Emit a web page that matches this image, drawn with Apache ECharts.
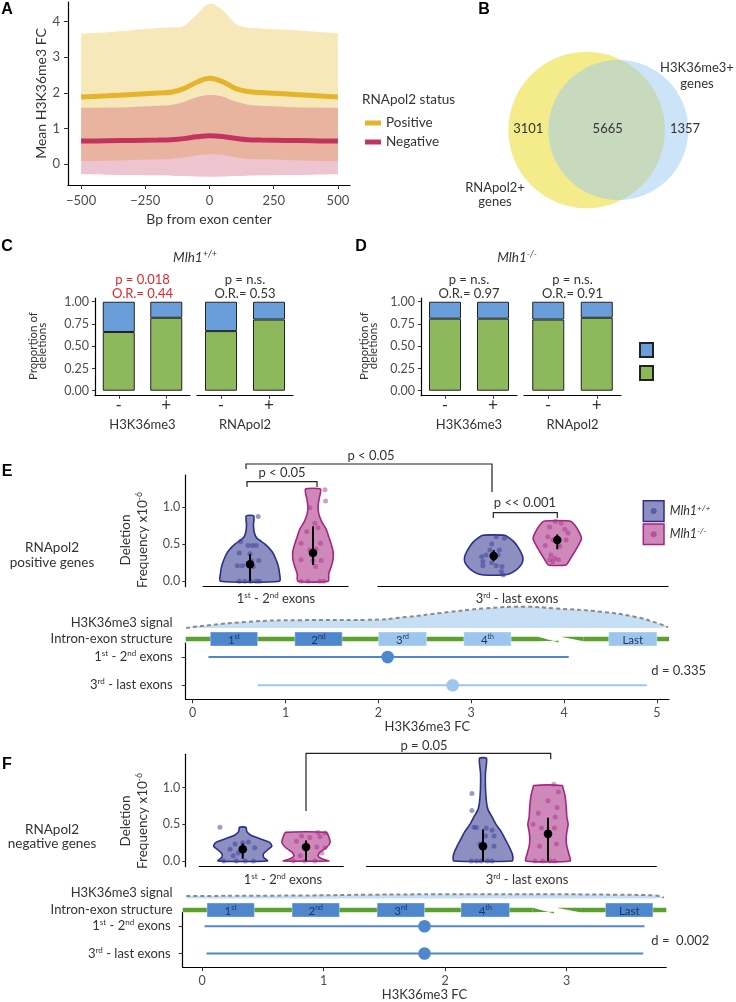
<!DOCTYPE html>
<html><head><meta charset="utf-8">
<script src="https://cdn.jsdelivr.net/npm/echarts@6/dist/echarts.min.js"></script>
<style>html,body{margin:0;padding:0;background:#fff}#c{width:736px;height:1002px}</style>
</head><body><div id="c"></div>
<script>
const FONT = 'Lato, "Noto Sans", "DejaVu Sans", sans-serif';
const TXT = '#333333';
const AXC = '#4d4d4d';

// ===== Panel A data =====
const aBp      = [-500,-400,-300,-200,-150,-100,-50,0,50,100,150,200,300,400,500];
const aPosMean = [1.89,1.92,1.96,2.00,2.02,2.12,2.30,2.41,2.32,2.13,2.04,2.01,1.97,1.93,1.89];
const aPosHigh = [3.66,3.70,3.76,3.82,3.84,3.88,4.20,4.50,4.33,3.95,3.83,3.81,3.77,3.72,3.67];
const aPosLow  = [0.09,0.10,0.12,0.14,0.15,0.19,0.25,0.28,0.26,0.20,0.15,0.14,0.12,0.10,0.09];
const aNegMean = [0.65,0.66,0.67,0.68,0.69,0.72,0.77,0.80,0.78,0.73,0.69,0.68,0.67,0.66,0.65];
const aNegHigh = [1.58,1.59,1.61,1.64,1.66,1.75,1.88,1.94,1.90,1.76,1.67,1.64,1.61,1.59,1.58];
const aNegLow  = [-0.28,-0.29,-0.30,-0.31,-0.32,-0.33,-0.34,-0.35,-0.34,-0.33,-0.32,-0.31,-0.30,-0.29,-0.28];
const aXTicks  = [-500,-250,0,250,500];
const aYTicks  = [0,1,2,3,4];
const aStatus  = ['Positive','Negative'];

// ===== Panel B data =====
const vennSets   = ['RNApol2+\ngenes','H3K36me3+\ngenes'];
const vennCounts = [3101, 5665, 1357];   // RNApol2 only, both, H3K36me3 only

// ===== Panels C / D data =====
const cdMarks   = ['-','+'];
const cdFacets  = ['H3K36me3','RNApol2'];
const cGreen    = [[0.66,0.82],[0.67,0.80]];
const dGreen    = [[0.81,0.81],[0.80,0.82]];
const cPvals    = ['p = 0.018','p = n.s.'];
const cOddsR    = ['O.R.= 0.44','O.R.= 0.53'];
const dPvals    = ['p = n.s.','p = n.s.'];
const dOddsR    = ['O.R.= 0.97','O.R.= 0.91'];
const propTicks = [0,0.25,0.5,0.75,1];
const cdClasses = ['Class 1','Class 2'];

// ===== Panels E / F data =====
const genotypes  = ['Mlh1+/+','Mlh1-/-'];
const exonGroups = ['1st - 2nd exons','3rd - last exons'];
const freqTicks  = [0,0.5,1.0];
// violin outlines: [deletion frequency, half width]
const eEarlyWT = [[0,0.47],[0.1,0.47],[0.2,0.45],[0.3,0.41],[0.4,0.35],[0.5,0.24],[0.58,0.11],[0.65,0.07],[0.75,0.055],[0.88,0.06]];
const eEarlyKO = [[0,0.24],[0.1,0.25],[0.2,0.29],[0.3,0.32],[0.4,0.32],[0.5,0.29],[0.6,0.25],[0.7,0.21],[0.8,0.14],[0.9,0.095],[1.0,0.08],[1.1,0.095],[1.24,0.12]];
const eLateWT  = [[0.085,0.16],[0.1,0.25],[0.15,0.35],[0.2,0.41],[0.25,0.45],[0.3,0.46],[0.35,0.45],[0.45,0.39],[0.52,0.33],[0.58,0.25],[0.62,0.17]];
const eLateKO  = [[0.22,0.14],[0.28,0.19],[0.35,0.24],[0.45,0.31],[0.57,0.38],[0.65,0.35],[0.75,0.28],[0.81,0.2]];
const fEarlyWT = [[0,0.39],[0.05,0.33],[0.1,0.33],[0.15,0.39],[0.2,0.46],[0.25,0.43],[0.3,0.28],[0.35,0.13],[0.4,0.065],[0.46,0.05]];
const fEarlyKO = [[0,0.36],[0.03,0.25],[0.07,0.19],[0.12,0.22],[0.18,0.32],[0.25,0.38],[0.33,0.36],[0.39,0.32]];
const fLateWT  = [[0,0.45],[0.05,0.46],[0.1,0.45],[0.2,0.40],[0.3,0.34],[0.4,0.28],[0.5,0.2],[0.6,0.14],[0.7,0.077],[0.8,0.054],[1.0,0.038],[1.2,0.038],[1.4,0.054]];
const fLateKO  = [[0,0.34],[0.1,0.32],[0.2,0.29],[0.3,0.28],[0.4,0.29],[0.5,0.31],[0.6,0.29],[0.75,0.28],[0.9,0.26],[1.0,0.23],[1.03,0.22]];
// individual samples: [jitter, deletion frequency]
const eEarlyWTPts = [[0.13,0.87],[-0.15,0.535],[-0.03,0.48],[0.04,0.48],[0.1,0.48],[-0.17,0.38],[0,0.37],[0.14,0.28],[0.02,0.28],[-0.2,0.21],[-0.12,0.21],[0.05,0.2],[-0.17,0],[-0.08,0],[0.01,0],[0.1,0],[0.15,0]];
const eEarlyKOPts = [[0.19,1.23],[0.2,1.08],[-0.05,0.99],[0.03,0.78],[0.08,0.72],[-0.1,0.67],[-0.19,0.51],[0.12,0.51],[-0.05,0.42],[0.05,0.43],[0.13,0.28],[-0.19,0.29],[0,0.28],[0.04,0.2],[-0.19,0],[-0.08,0],[0.11,0],[0.17,0]];
const eLateWTPts  = [[0.04,0.6],[0.17,0.58],[-0.03,0.5],[0.09,0.42],[-0.06,0.42],[-0.12,0.355],[0.07,0.355],[-0.19,0.33],[-0.17,0.265],[-0.03,0.25],[-0.17,0.21],[0.04,0.21],[0.13,0.2],[0.12,0.13],[0.15,0.085]];
const eLateKOPts  = [[-0.03,0.805],[0.06,0.78],[-0.12,0.73],[0.12,0.7],[0.17,0.65],[-0.15,0.6],[-0.07,0.555],[0.14,0.555],[-0.19,0.48],[0.04,0.47],[-0.1,0.355],[-0.04,0.31],[-0.12,0.29],[0.02,0.29],[-0.07,0.265]];
const fEarlyWTPts = [[-0.36,0.46],[-0.12,0.23],[0,0.25],[0.09,0.26],[0.19,0.18],[-0.2,0.16],[-0.07,0.11],[-0.15,0.07],[-0.3,0],[0.04,0],[0.17,0],[-0.1,0]];
const fEarlyKOPts = [[0.19,0.39],[0.3,0.38],[0.06,0.32],[-0.07,0.34],[0.22,0.33],[-0.15,0.27],[0.17,0.19],[0.3,0.18],[0.25,0.11],[-0.09,0.07],[-0.2,0],[-0.02,0],[0.14,0]];
const fLateWTPts  = [[-0.17,0.92],[-0.17,0.69],[-0.14,0.46],[-0.1,0.455],[0.05,0.45],[0.14,0.42],[0.17,0.34],[0.04,0.34],[-0.05,0.23],[0.17,0.2],[-0.18,0],[-0.1,0],[-0.03,0],[0.07,0],[0.14,0]];
const fLateKOPts  = [[0.09,1.045],[0.16,0.94],[0,0.82],[0.14,0.73],[-0.15,0.65],[0.11,0.6],[-0.23,0.5],[-0.1,0.45],[0.1,0.45],[0.13,0.23],[-0.13,0.2],[-0.2,0],[-0.08,0],[0.03,0],[0.1,0]];
// [mean, low, high]
const eEarlyWTStat = [0.23,0,0.365],  eEarlyKOStat = [0.38,0.22,0.74];
const eLateWTStat  = [0.34,0.27,0.42], eLateKOStat  = [0.555,0.43,0.63];
const fEarlyWTStat = [0.16,0.03,0.24], fEarlyKOStat = [0.19,0,0.28];
const fLateWTStat  = [0.2,0,0.43],     fLateKOStat  = [0.37,0,0.59];
const eTests = ['p < 0.05','p < 0.05','p << 0.001'];
const fTests = ['p = 0.05'];
// H3K36me3 signal schematic
const eSignalFC = [-0.07,0.58,1.16,1.88,2.32,2.68,3.15,3.58,3.90,4.40,4.76,5.01,5.12];
const eSignal   = [0.00,0.22,0.28,0.29,0.40,0.54,0.70,0.76,0.70,0.58,0.40,0.17,0.03];
const fSignalFC = [-0.13,0.8,1.36,2.03,2.86,3.43,3.72,3.80];
const fSignal   = [0.17,0.2,0.25,0.28,0.28,0.25,0.21,0.05];
// exon structure
const exonNames  = ['1st','2nd','3rd','4th','Last'];
const eExonStart = [0.19,1.10,2.00,2.92,4.48];
const eExonEnd   = [0.70,1.61,2.52,3.43,5.00];
const fExonStart = [0.04,0.74,1.44,2.13,3.32];
const fExonEnd   = [0.43,1.13,1.83,2.53,3.71];
const eIntronBreak = [3.72,4.21];
const fIntronBreak = [2.72,3.11];
// H3K36me3 FC ranges per exon group
const eRangeLow = [0.17,0.70], eRangeHigh = [4.05,4.89], eRangeMid = [2.10,2.80];
const fRangeLow = [0.02,0.036], fRangeHigh = [3.64,3.63], fRangeMid = [1.83,1.83];
const eEffect = 'd = 0.335', fEffect = 'd =  0.002';
const eFCTicks = [0,1,2,3,4,5], fFCTicks = [0,1,2,3];

// ===== helpers =====
const sup = s => s.replace(/(\d)(st|nd|rd|th)\b/g, '$1{s|$2}');
const supG = s => s.replace(/^(Mlh1)(.+)$/, '$1{s|$2}');
const richLbl = {s:{fontSize:8, lineHeight:8, verticalAlign:'top', fontFamily:FONT, color:TXT}};
function gText(x, y, text, st = {}, el = {}) {
  const style = Object.assign({text, fill:TXT, fontFamily:FONT, fontSize:13, align:'center', verticalAlign:'middle'}, st);
  style.textAlign = style.align; style.textVerticalAlign = style.verticalAlign;
  return Object.assign({type:'text', x, y, silent:true, z:100, style}, el);
}
const richG = (fs = 8, extra = {}) => ({s:Object.assign({fontSize:fs, lineHeight:fs, verticalAlign:'top', fontFamily:FONT, fill:TXT}, extra)});
// Catmull-Rom -> cubic bezier path through pixel points
function splinePath(pts) {
  let d = '';
  for (let i = 0; i < pts.length - 1; i++) {
    const p0 = pts[Math.max(i - 1, 0)], p1 = pts[i], p2 = pts[i + 1], p3 = pts[Math.min(i + 2, pts.length - 1)];
    const c1 = [p1[0] + (p2[0] - p0[0]) / 6, p1[1] + (p2[1] - p0[1]) / 6];
    const c2 = [p2[0] - (p3[0] - p1[0]) / 6, p2[1] - (p3[1] - p1[1]) / 6];
    d += ' C' + c1[0] + ',' + c1[1] + ' ' + c2[0] + ',' + c2[1] + ' ' + p2[0] + ',' + p2[1];
  }
  return d;
}

const grid = [], xAxis = [], yAxis = [], series = [], graphic = [];
function addCoord(g, x, y) {
  grid.push(g); const i = grid.length - 1;
  x.gridIndex = i; y.gridIndex = i; xAxis.push(x); yAxis.push(y); return i;
}
const AX_LINE = {show:true, onZero:false, lineStyle:{color:'#000', width:1.2}};
const tickStyle = {color:'#333', width:1};
const lblStyle = (fs) => ({color:AXC, fontFamily:FONT, fontSize:fs});

// ===== Panel letters =====
[['A',7,10],['B',484,10],['C',7,247],['D',361,247],['E',7,472],['F',7,765]].forEach(([t,x,y]) =>
  graphic.push(gText(x, y, t, {fontFamily:'"Liberation Sans", Arial, sans-serif', fontWeight:'bold', fontSize:16, fill:'#000'})));

// ===== Panel A =====
const gA = addCoord({left:68, right:386, top:2, bottom:817},
  {type:'value', min:-551, max:547, axisLine:AX_LINE,
   axisTick:{show:true, length:4, lineStyle:tickStyle, customValues:aXTicks},
   axisLabel:Object.assign(lblStyle(13), {margin:9, customValues:aXTicks, formatter:v => v < 0 ? '\u2212' + Math.abs(v) : String(v)}),
   splitLine:{show:false}, name:'Bp from exon center', nameLocation:'middle', nameGap:27,
   nameTextStyle:{fontFamily:FONT, fontSize:14, color:TXT}},
  {type:'value', min:-0.58, max:4.55, axisLine:AX_LINE,
   axisTick:{show:true, length:4, lineStyle:tickStyle, customValues:aYTicks},
   axisLabel:Object.assign(lblStyle(13), {margin:8, customValues:aYTicks}),
   splitLine:{show:false}, name:'Mean H3K36me3 FC', nameLocation:'middle', nameGap:20, nameRotate:90,
   nameTextStyle:{fontFamily:FONT, fontSize:14, color:TXT}});
const aXY = ys => aBp.map((x, i) => [x, ys[i]]);
function band(low, high, color) {
  series.push({type:'custom', xAxisIndex:gA, yAxisIndex:gA, data:[[aBp[0], low[0]]], silent:true, z:1,
    renderItem:(params, api) => {
      const up = aBp.map((x, i) => api.coord([x, high[i]]));
      const dn = aBp.map((x, i) => api.coord([x, low[i]])).reverse();
      const d = 'M' + up[0][0] + ',' + up[0][1] + splinePath(up) + ' L' + dn[0][0] + ',' + dn[0][1] + splinePath(dn) + ' Z';
      return {type:'path', shape:{pathData:d}, style:{fill:color}};
    }});
}
band(aPosLow, aPosHigh, 'rgba(232,190,60,0.36)');
band(aNegLow, aNegHigh, 'rgba(200,60,100,0.30)');
series.push({type:'line', name:aStatus[0], xAxisIndex:gA, yAxisIndex:gA, data:aXY(aPosMean), smooth:0.4, symbol:'none',
  lineStyle:{width:5, color:'#e6b42c'}, itemStyle:{color:'#e6b42c'}, z:3});
series.push({type:'line', name:aStatus[1], xAxisIndex:gA, yAxisIndex:gA, data:aXY(aNegMean), smooth:0.4, symbol:'none',
  lineStyle:{width:5, color:'#c2345f'}, itemStyle:{color:'#c2345f'}, z:3});
graphic.push(gText(362, 100, 'RNApol2 status', {align:'left', fontSize:13.5}));

// ===== Panel B (Venn) =====
graphic.push({type:'circle', shape:{cx:586.7, cy:130, r:78.3}, style:{fill:'rgba(240,228,90,0.7)'}, silent:true, z:10});
graphic.push({type:'circle', shape:{cx:618.3, cy:130, r:70}, style:{fill:'rgba(155,199,239,0.5)'}, silent:true, z:11});
graphic.push(gText(528.3, 128.5, String(vennCounts[0]), {fontSize:13}));
graphic.push(gText(607.7, 128.5, String(vennCounts[1]), {fontSize:13}));
graphic.push(gText(685, 128.5, String(vennCounts[2]), {fontSize:13}));
graphic.push(gText(697, 76, vennSets[1], {fontSize:13, lineHeight:16}));
graphic.push(gText(495, 195, vennSets[0], {fontSize:13, lineHeight:14}));

// ===== Panels C / D =====
const cdPanels = [
  {greens:cGreen, pv:cPvals, or:cOddsR, facetsX:[[95,190],[197,293]], yTitleX:38, title:'Mlh1+/+', titleX:195, statCol:['#e2262b', TXT]},
  {greens:dGreen, pv:dPvals, or:dOddsR, facetsX:[[421,517],[524,621]], yTitleX:369, title:'Mlh1-/-', titleX:517, statCol:[TXT, TXT]}
];
cdPanels.forEach(p => {
  p.facetsX.forEach(([x0, x1], f) => {
    const gi = addCoord({left:x0, right:736 - x1, top:298, bottom:1002 - 395.7},
      {type:'category', data:cdMarks, axisLine:AX_LINE, axisTick:{show:true, alignWithLabel:true, length:3, lineStyle:tickStyle},
       axisLabel:{color:TXT, fontFamily:FONT, fontSize:17, margin:1},
       name:cdFacets[f], nameLocation:'middle', nameGap:23, nameTextStyle:{fontFamily:FONT, fontSize:13, color:TXT}},
      {type:'value', show:f === 0, min:-0.056, max:1.042, axisLine:AX_LINE,
       axisTick:{show:true, length:3, lineStyle:tickStyle, customValues:propTicks},
       axisLabel:Object.assign(lblStyle(12.5), {margin:6, customValues:propTicks, formatter:v => v.toFixed(2)}),
       splitLine:{show:false}});
    const g = p.greens[f];
    series.push({type:'bar', name:cdClasses[1], xAxisIndex:gi, yAxisIndex:gi, stack:'s' + gi, data:g, barWidth:32,
      itemStyle:{color:'#8db95c', borderColor:'#222', borderWidth:1}, silent:true});
    series.push({type:'bar', name:cdClasses[0], xAxisIndex:gi, yAxisIndex:gi, stack:'s' + gi, data:g.map(v => +(1 - v).toFixed(2)), barWidth:32,
      itemStyle:{color:'#6a9edb', borderColor:'#222', borderWidth:1}, silent:true});
    const cx = (x0 + x1) / 2;
    graphic.push(gText(cx, 280, p.pv[f], {fontSize:13, fill:p.statCol[f]}));
    graphic.push(gText(cx, 294, p.or[f], {fontSize:13, fill:p.statCol[f]}));
  });
  graphic.push(gText(p.titleX, 258, supG(p.title), {fontSize:13.5, fontStyle:'italic', lineHeight:16, rich:richG(9, {fontStyle:'italic'})}));
  graphic.push(gText(p.yTitleX, 346, 'Proportion of\ndeletions', {fontSize:11.5, lineHeight:9.5}, {rotation:Math.PI / 2}));
});

// ===== Panels E / F : violins =====
const STY = [
  {fill:'rgba(50,55,140,0.56)', stroke:'#2b2e8c', pt:'rgba(62,62,160,0.65)'},
  {fill:'rgba(165,40,130,0.55)', stroke:'#a3257f', pt:'rgba(170,45,135,0.6)'}
];
function violinPanel(cfg) {
  cfg.facets.forEach((f, fi) => {
    const gi = addCoord({left:f.left, right:736 - f.right, top:cfg.top, bottom:1002 - cfg.bottom},
      {type:'value', min:f.min, max:f.max, axisLine:AX_LINE, axisTick:{show:false}, axisLabel:{show:false}, splitLine:{show:false}},
      {type:'value', show:fi === 0, offset:f.left - cfg.yAxisX, min:cfg.yMin, max:cfg.yMax, axisLine:AX_LINE,
       axisTick:{show:true, length:3, lineStyle:tickStyle, customValues:freqTicks},
       axisLabel:Object.assign(lblStyle(12.5), {margin:5, customValues:freqTicks, formatter:v => v.toFixed(1)}),
       splitLine:{show:false}});
    f.groups.forEach((gr, k) => {
      const st = STY[k], c = k;
      series.push({type:'custom', name:genotypes[k], xAxisIndex:gi, yAxisIndex:gi, data:[[c, gr.profile[0][0]]], silent:true, z:2,
        renderItem:(params, api) => {
          const right = gr.profile.map(([v, w]) => api.coord([c + w, v]));
          const left = gr.profile.slice().reverse().map(([v, w]) => api.coord([c - w, v]));
          return {type:'polygon', shape:{points:right.concat(left), smooth:0.2}, style:{fill:st.fill, stroke:st.stroke, lineWidth:1.6}};
        }});
      series.push({type:'scatter', name:genotypes[k], xAxisIndex:gi, yAxisIndex:gi, data:gr.points.map(([j, v]) => [c + j, v]),
        symbolSize:5, itemStyle:{color:st.pt}, silent:true, z:3});
      series.push({type:'custom', name:genotypes[k], xAxisIndex:gi, yAxisIndex:gi, data:[[c, gr.stat[0], gr.stat[1], gr.stat[2]]], silent:true, z:4,
        renderItem:(params, api) => {
          const m = api.coord([api.value(0), api.value(1)]), lo = api.coord([api.value(0), api.value(2)]), hi = api.coord([api.value(0), api.value(3)]);
          return {type:'group', children:[
            {type:'line', shape:{x1:lo[0], y1:lo[1], x2:hi[0], y2:hi[1]}, style:{stroke:'#000', lineWidth:2}},
            {type:'circle', shape:{cx:m[0], cy:m[1], r:4.3}, style:{fill:'#000'}}]};
        }});
    });
    graphic.push(gText(f.labelX, cfg.labelY, sup(exonGroups[fi]), {fontSize:13, lineHeight:15, rich:richG(8)}));
  });
  graphic.push(gText(134.5, cfg.titleY, 'Deletion\nFrequency x10{s|-6}', {fontSize:13.5, lineHeight:17, rich:richG(8.5)}, {rotation:Math.PI / 2}));
  graphic.push(gText(52, cfg.rowY, 'RNApol2', {fontSize:13.5}));
  graphic.push(gText(52, cfg.rowY + 14.5, cfg.rowLabel, {fontSize:13.5}));
}
violinPanel({top:475, bottom:586.7, yMin:-0.073, yMax:1.43, yAxisX:185.3, labelY:599, titleY:540, rowY:548, rowLabel:'positive genes',
  facets:[
    {left:203, right:348, min:-0.746, max:1.556, labelX:276, groups:[
      {profile:eEarlyWT, points:eEarlyWTPts, stat:eEarlyWTStat}, {profile:eEarlyKO, points:eEarlyKOPts, stat:eEarlyKOStat}]},
    {left:378, right:668, min:-1.819, max:2.741, labelX:517, groups:[
      {profile:eLateWT, points:eLateWTPts, stat:eLateWTStat}, {profile:eLateKO, points:eLateKOPts, stat:eLateKOStat}]}]});
violinPanel({top:754.3, bottom:866.7, yMin:-0.078, yMax:1.455, yAxisX:185.3, labelY:880, titleY:821, rowY:829.3, rowLabel:'negative genes',
  facets:[
    {left:199.3, right:343.3, min:-0.686, max:1.589, labelX:283, groups:[
      {profile:fEarlyWT, points:fEarlyWTPts, stat:fEarlyWTStat}, {profile:fEarlyKO, points:fEarlyKOPts, stat:fEarlyKOStat}]},
    {left:366.5, right:656.3, min:-1.792, max:2.666, labelX:527, groups:[
      {profile:fLateWT, points:fLateWTPts, stat:fLateWTStat}, {profile:fLateKO, points:fLateKOPts, stat:fLateKOStat}]}]});

// significance brackets
function bracket(pts, label, tx, ty) {
  graphic.push({type:'polyline', shape:{points:pts}, style:{stroke:'#222', lineWidth:1.2, fill:null}, silent:true, z:50});
  graphic.push(gText(tx, ty, label, {fontSize:13}));
}
bracket([[246,469],[246,464],[492,464],[492,492]], eTests[1], 371, 456);
bracket([[247,487],[247,481.7],[317,481.7],[317,487]], eTests[0], 282, 473);
bracket([[493.3,518],[493.3,512.7],[557.3,512.7],[557.3,518]], eTests[2], 525, 503);
bracket([[306,811],[306,753.3],[550.7,753.3],[550.7,759.3]], fTests[0], 424, 746);

// genotype legend
[[511, 0], [534.2, 1]].forEach(([cy, k]) => {
  graphic.push({type:'rect', shape:{x:643.3, y:cy - 10.3, width:20.7, height:20.7}, style:{fill:STY[k].fill, stroke:STY[k].stroke, lineWidth:1.5}, silent:true});
  graphic.push({type:'circle', shape:{cx:653.7, cy, r:3}, style:{fill:STY[k].pt}, silent:true});
  graphic.push(gText(669.7, cy, supG(genotypes[k]), {align:'left', fontSize:12.5, fontStyle:'italic', lineHeight:15, rich:richG(8.5, {fontStyle:'italic'})}));
});

// ===== Panels E / F : H3K36me3 schematic + FC ranges =====
function fcPanel(cfg) {
  const L = cfg.left, R = 736 - cfg.right;
  // signal
  const gs = addCoord({left:L, right:R, top:cfg.sigTop, bottom:1002 - cfg.sigBase},
    {type:'value', show:false, min:cfg.min, max:cfg.max}, {type:'value', show:false, min:0, max:1});
  series.push({type:'line', xAxisIndex:gs, yAxisIndex:gs, data:cfg.sigFC.map((x, i) => [x, cfg.sig[i]]), smooth:0.5, symbol:'none',
    lineStyle:{color:'#8a8a8a', width:2, type:[4, 3]}, areaStyle:{color:'#c7dff5', opacity:1}, silent:true, z:2});
  // exon structure
  const gx = addCoord({left:L, right:R, top:cfg.strY - 9, bottom:1002 - cfg.strY - 9},
    {type:'value', show:false, min:cfg.min, max:cfg.max}, {type:'value', show:false, min:0, max:1});
  series.push({type:'custom', xAxisIndex:gx, yAxisIndex:gx, data:[[cfg.brk[0], cfg.brk[1]]], silent:true, z:3,
    renderItem:(params, api) => {
      const a = api.coord([cfg.min, 0.5]), b0 = api.coord([cfg.brk[0], 0.5]), b1 = api.coord([cfg.brk[1], 0.5]), z = api.coord([cfg.max, 0.5]);
      const y = a[1], G = '#5ba12e', gap = (b1[0] - b0[0]);
      return {type:'group', children:[
        {type:'line', shape:{x1:a[0], y1:y, x2:b0[0], y2:y}, style:{stroke:G, lineWidth:4.5}},
        {type:'polygon', shape:{points:[[b0[0], y - 2.2], [b0[0] + gap * 0.45, y + 3.4], [b0[0] + gap * 0.45, y + 1.8], [b0[0], y + 2.2]]}, style:{fill:G}},
        {type:'polygon', shape:{points:[[b0[0] + gap * 0.5, y - 2.2], [b1[0], y + 2.2], [b1[0], y - 2.2]]}, style:{fill:G}},
        {type:'line', shape:{x1:b1[0], y1:y, x2:z[0], y2:y}, style:{stroke:G, lineWidth:4.5}}]};
    }});
  series.push({type:'custom', xAxisIndex:gx, yAxisIndex:gx, data:cfg.exS.map((s, i) => [s, cfg.exE[i], i]), silent:true, z:4,
    renderItem:(params, api) => {
      const p0 = api.coord([api.value(0), 0.5]), p1 = api.coord([api.value(1), 0.5]), i = api.value(2);
      const col = cfg.exCol[i];
      return {type:'group', children:[
        {type:'rect', shape:{x:p0[0], y:p0[1] - 7, width:p1[0] - p0[0], height:14}, style:{fill:col, stroke:'rgba(255,255,255,0.35)', lineWidth:1}},
        {type:'text', x:(p0[0] + p1[0]) / 2, y:p0[1] + 1, style:{text:sup(exonNames[i]), fill:'#1d3557', fontFamily:FONT, fontSize:11.5, lineHeight:13,
          align:'center', verticalAlign:'middle', rich:richG(7, {fill:'#1d3557'})}}]};
    }});
  // ranges
  const gr = addCoord({left:L, right:R, top:cfg.rTop, bottom:1002 - cfg.rBottom},
    {type:'value', min:cfg.min, max:cfg.max, axisLine:AX_LINE,
     axisTick:{show:true, length:4, lineStyle:tickStyle, customValues:cfg.ticks},
     axisLabel:Object.assign(lblStyle(12.5), {margin:7, customValues:cfg.ticks}), splitLine:{show:false},
     name:'H3K36me3 FC', nameLocation:'middle', nameGap:cfg.nameGap, nameTextStyle:{fontFamily:FONT, fontSize:13, color:TXT}},
    {type:'category', data:exonGroups, inverse:true, axisLine:AX_LINE, axisTick:{show:true, alignWithLabel:true, length:4, lineStyle:tickStyle},
     axisLabel:{color:TXT, fontFamily:FONT, fontSize:13, lineHeight:15, margin:cfg.lblMargin, formatter:v => sup(v), rich:richLbl}});
  series.push({type:'custom', xAxisIndex:gr, yAxisIndex:gr, data:cfg.lo.map((s, i) => [s, cfg.hi[i], cfg.mid[i], i]),
    encode:{x:[0, 1, 2], y:3}, silent:true, z:3,
    renderItem:(params, api) => {
      const r = api.value(3), p0 = api.coord([api.value(0), r]), p1 = api.coord([api.value(1), r]), pm = api.coord([api.value(2), r]);
      const col = cfg.rCol[r];
      return {type:'group', children:[
        {type:'line', shape:{x1:p0[0], y1:p0[1], x2:p1[0], y2:p1[1]}, style:{stroke:col, lineWidth:2}},
        {type:'circle', shape:{cx:pm[0], cy:pm[1], r:6.3}, style:{fill:col}}]};
    }});
  graphic.push(gText(172.5, cfg.sigLabelY, 'H3K36me3 signal', {align:'right', fontSize:13}));
  graphic.push(gText(172.5, cfg.strY, 'Intron-exon structure', {align:'right', fontSize:13}));
  graphic.push(gText(651.3, cfg.effY, cfg.eff, {align:'left', fontSize:13}));
}
const DARK = '#4f87cf', LIGHT = '#9dc6ef';
fcPanel({left:185.7, right:669, min:-0.075, max:5.13, ticks:eFCTicks, sigTop:600, sigBase:628, sigFC:eSignalFC, sig:eSignal,
  strY:639, brk:eIntronBreak, exS:eExonStart, exE:eExonEnd, exCol:[DARK, DARK, LIGHT, LIGHT, LIGHT],
  rTop:643, rBottom:699.3, nameGap:21, lblMargin:13, lo:eRangeLow, hi:eRangeHigh, mid:eRangeMid, rCol:[DARK, LIGHT],
  sigLabelY:622.7, eff:eEffect, effY:671});
fcPanel({left:182.7, right:666.3, min:-0.16, max:3.82, ticks:fFCTicks, sigTop:883.5, sigBase:898.5, sigFC:fSignalFC, sig:fSignal,
  strY:910, brk:fIntronBreak, exS:fExonStart, exE:fExonEnd, exCol:[DARK, DARK, DARK, DARK, DARK],
  rTop:912.7, rBottom:969.3, nameGap:20, lblMargin:12, lo:fRangeLow, hi:fRangeHigh, mid:fRangeMid, rCol:[DARK, DARK],
  sigLabelY:892.7, eff:fEffect, effY:941});

const chart = echarts.init(document.getElementById('c'), null, {renderer:'canvas', width:736, height:1002});
chart.setOption({
  backgroundColor:'#ffffff', animation:false,
  textStyle:{fontFamily:FONT},
  legend:[
    {data:aStatus, orient:'vertical', left:360, top:111, icon:'rect', itemWidth:16, itemHeight:5, itemGap:5,
     textStyle:{fontFamily:FONT, fontSize:13.5, color:TXT, lineHeight:14}, selectedMode:false},
    {data:cdClasses, orient:'vertical', left:634, top:337, icon:'rect', itemWidth:13, itemHeight:14, itemGap:7,
     formatter:() => '', textStyle:{fontSize:10, lineHeight:14}, selectedMode:false}
  ],
  grid, xAxis, yAxis, series, graphic
});
</script></body></html>
